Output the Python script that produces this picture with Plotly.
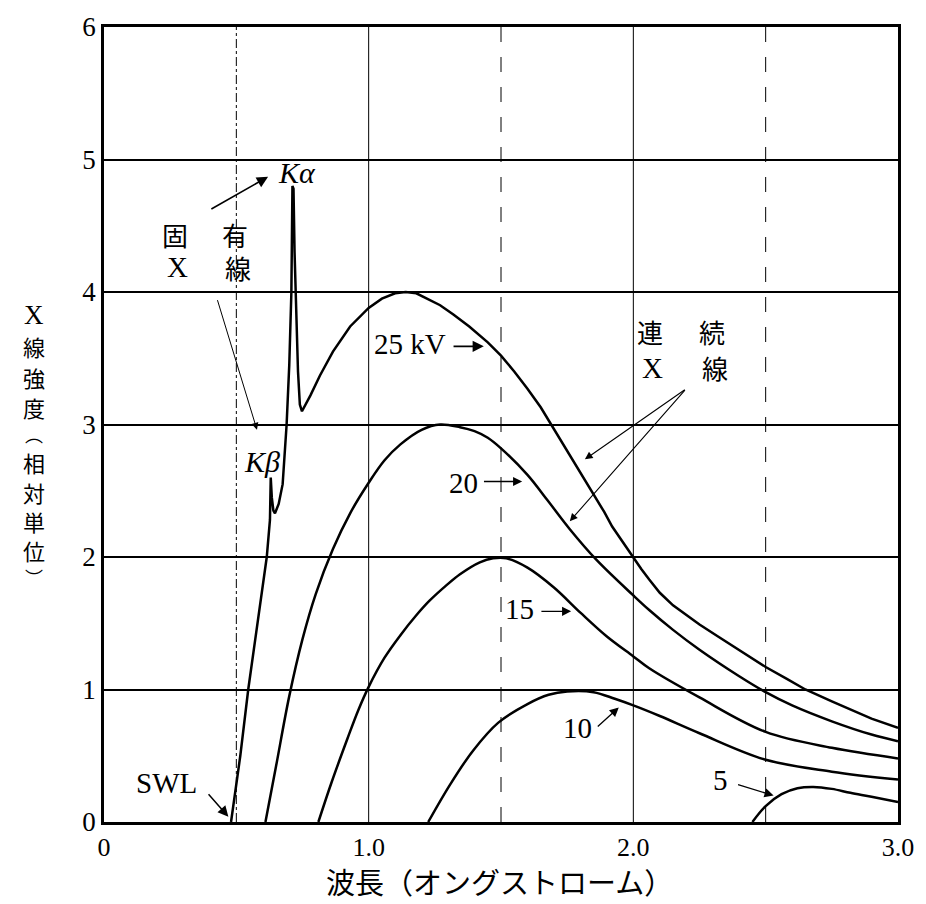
import plotly.graph_objects as go

# ---------------- data ----------------
wl_25 = [0.48, 0.515, 0.545, 0.59, 0.615, 0.627, 0.630, 0.634, 0.640, 0.646, 0.66, 0.675, 0.69,
         0.700, 0.708, 0.712, 0.716, 0.720, 0.726, 0.733, 0.740, 0.748, 0.78, 0.816, 0.865, 0.93,
         1.0, 1.05, 1.1, 1.14, 1.18, 1.22, 1.27, 1.32, 1.38, 1.45, 1.5, 1.55, 1.6, 1.65, 1.69,
         1.73, 1.77, 1.81, 1.85, 1.89, 1.92, 1.96, 2.0, 2.03, 2.06, 2.1, 2.15, 2.2, 2.25, 2.32,
         2.4, 2.5, 2.58, 2.65, 2.75, 2.82, 2.9, 3.0]
int_25 = [0.0, 0.5, 1.0, 1.67, 2.0, 2.28, 2.6, 2.45, 2.35, 2.33, 2.4, 2.55, 3.0,
          3.45, 4.0, 4.8, 4.78, 4.3, 3.8, 3.4, 3.15, 3.1, 3.22, 3.37, 3.55, 3.74,
          3.88, 3.95, 3.99, 4.0, 3.99, 3.95, 3.9, 3.83, 3.74, 3.62, 3.52, 3.4, 3.27, 3.13, 3.0,
          2.87, 2.73, 2.6, 2.47, 2.34, 2.23, 2.11, 1.99, 1.91, 1.83, 1.73, 1.635, 1.56, 1.49, 1.4,
          1.3, 1.17, 1.08, 1.0, 0.91, 0.85, 0.78, 0.71]

wl_20 = [0.61, 0.65, 0.70, 0.75, 0.80, 0.865, 0.93, 1.0, 1.06, 1.12, 1.2, 1.27, 1.345,
         1.40, 1.45, 1.5, 1.6, 1.675, 1.76, 1.86, 2.0, 2.06, 2.15, 2.25, 2.4, 2.5, 2.6, 2.75, 2.9, 3.0]
int_20 = [0.0, 0.42, 0.95, 1.38, 1.72, 2.06, 2.33, 2.56, 2.73, 2.85, 2.96, 3.0, 2.98,
          2.95, 2.9, 2.82, 2.62, 2.43, 2.21, 1.98, 1.71, 1.6, 1.45, 1.3, 1.1, 0.98, 0.88, 0.76, 0.66, 0.61]

wl_15 = [0.81, 0.86, 0.92, 0.96, 1.0, 1.06, 1.12, 1.18, 1.23, 1.29, 1.345, 1.42, 1.47, 1.52,
         1.6, 1.7, 1.8, 1.9, 2.0, 2.06, 2.25, 2.5, 2.75, 3.0]
int_15 = [0.0, 0.3, 0.63, 0.84, 1.02, 1.24, 1.41, 1.56, 1.67, 1.78, 1.87, 1.96, 1.99, 1.99,
          1.92, 1.77, 1.58, 1.4, 1.25, 1.16, 0.94, 0.68, 0.56, 0.48]

wl_10 = [1.225, 1.31, 1.395, 1.49, 1.6, 1.68, 1.75, 1.85, 1.93, 2.0, 2.1, 2.25, 2.5, 2.75, 3.0]
int_10 = [0.0, 0.29, 0.54, 0.75, 0.89, 0.96, 0.985, 0.98, 0.93, 0.88, 0.8, 0.67, 0.47, 0.38, 0.32]

wl_5 = [2.45, 2.5, 2.56, 2.62, 2.68, 2.75, 2.82, 2.9, 3.0]
int_5 = [0.0, 0.12, 0.21, 0.255, 0.265, 0.25, 0.22, 0.19, 0.15]

x_tick_vals = [0, 1, 2, 3]
x_tick_text = ["0", "1.0", "2.0", "3.0"]
y_tick_vals = [0, 1, 2, 3, 4, 5, 6]
y_tick_text = ["0", "1", "2", "3", "4", "5", "6"]
vgrid_x = [0.5, 1.0, 1.5, 2.0, 2.5]

x_title = "波長（オングストローム）"
y_title_chars = ["X", "線", "強", "度", "︵", "相", "対", "単", "位", "︶"]

# ---------------- styling / layout ----------------
vgrid_dash = ["dashdot", "solid", "longdash", "solid", "longdash"]
y_title_px = [313, 344, 375, 405, 433, 461, 491, 520, 549, 576]  # vertical pixel centres
LAT = "Liberation Serif, Noto Sans CJK JP"
CJK = "Noto Sans CJK JP, Liberation Serif"
L, R, T, B, W, H = 104, 28, 24, 82, 926, 904
PW, PH = W - L - R, H - T - B

fig = go.Figure()

fig.add_trace(go.Scatter(x=wl_25, y=int_25, mode="lines",
                         line=dict(color="black", width=2.5, shape="linear"),
                         showlegend=False, hoverinfo="skip"))
for wx, wy in [(wl_20, int_20), (wl_15, int_15), (wl_10, int_10), (wl_5, int_5)]:
    fig.add_trace(go.Scatter(x=wx, y=wy, mode="lines",
                             line=dict(color="black", width=2.5, shape="spline", smoothing=1.0),
                             showlegend=False, hoverinfo="skip"))

for gx, gd in zip(vgrid_x, vgrid_dash):
    fig.add_shape(type="line", xref="x", yref="y", x0=gx, x1=gx, y0=0, y1=6,
                  line=dict(color="black", width=1, dash=gd), layer="below")

ann = []

def text(x, y, s, size=28, family=LAT):
    ann.append(dict(x=x, y=y, xref="x", yref="y", text=s, showarrow=False,
                    font=dict(family=family, size=size, color="black"),
                    xanchor="center", yanchor="middle"))

def arrow(tx, ty, hx, hy, w=1.3):
    ann.append(dict(x=hx, y=hy, ax=tx, ay=ty, xref="x", yref="y", axref="x", ayref="y",
                    text="", showarrow=True, arrowhead=2, arrowsize=1.4, arrowwidth=w,
                    arrowcolor="black", standoff=0, startstandoff=0))

text(0.729, 4.90, "<i>Kα</i>", 30)
text(0.597, 2.72, "<i>Kβ</i>", 30)
text(0.268, 4.436, "固", 26, CJK)
text(0.495, 4.436, "有", 26, CJK)
text(0.276, 4.188, "X", 29, LAT)
text(0.506, 4.188, "線", 26, CJK)
text(2.063, 3.70, "連", 26, CJK)
text(2.297, 3.70, "続", 26, CJK)
text(2.074, 3.43, "X", 29, LAT)
text(2.308, 3.43, "線", 26, CJK)
text(1.156, 3.61, "25 kV", 29)
text(1.36, 2.56, "20", 29)
text(1.568, 1.61, "15", 29)
text(1.79, 0.707, "10", 29)
text(2.331, 0.316, "5", 29)
text(0.238, 0.293, "SWL", 29)

arrow(0.40, 4.62, 0.62, 4.87, 1.6)
arrow(0.427, 3.95, 0.578, 2.96, 1.0)
arrow(0.39, 0.22, 0.47, 0.04, 1.5)
arrow(1.315, 3.59, 1.435, 3.59, 1.6)
arrow(1.43, 2.57, 1.58, 2.57, 1.3)
arrow(1.647, 1.59, 1.765, 1.59, 1.3)
arrow(1.86, 0.71, 1.945, 0.865, 1.3)
arrow(2.39, 0.285, 2.53, 0.20, 1.3)
arrow(2.2, 3.27, 1.817, 2.737, 1.1)
arrow(2.2, 3.27, 1.76, 2.27, 1.1)

# x-axis title
ann.append(dict(x=(499 - L) / PW, y=-(881 - (H - B)) / PH, xref="paper", yref="paper",
                text=x_title, showarrow=False,
                font=dict(family=CJK, size=29, color="black"),
                xanchor="center", yanchor="middle"))
# y-axis title, written vertically one character at a time
for ch, py in zip(y_title_chars, y_title_px):
    if ch == "X":
        fam, sz = LAT, 27
    elif ch in ("︵", "︶"):
        fam, sz = CJK, 18
    else:
        fam, sz = CJK, 22
    ann.append(dict(x=(34 - L) / PW, y=((H - B) - py) / PH, xref="paper", yref="paper",
                    text=ch, showarrow=False, borderpad=0,
                    font=dict(family=fam, size=sz, color="black"),
                    xanchor="center", yanchor="middle"))

fig.update_layout(
    width=W, height=H,
    margin=dict(l=L, r=R, t=T, b=B),
    paper_bgcolor="white", plot_bgcolor="white",
    annotations=ann, showlegend=False,
    xaxis=dict(range=[0, 3], tickvals=x_tick_vals, ticktext=x_tick_text,
               showgrid=False, zeroline=False, showline=True, linecolor="black",
               linewidth=2.5, mirror=True, ticks="", ticklabelstandoff=0,
               tickfont=dict(family=LAT, size=26, color="black")),
    yaxis=dict(range=[0, 6], tickvals=y_tick_vals, ticktext=y_tick_text,
               showgrid=True, gridcolor="black", gridwidth=2, zeroline=False,
               showline=True, linecolor="black", linewidth=2.5, mirror=True,
               ticks="", ticklabelstandoff=0,
               tickfont=dict(family=LAT, size=27, color="black")),
)

fig.write_html("out.html")
